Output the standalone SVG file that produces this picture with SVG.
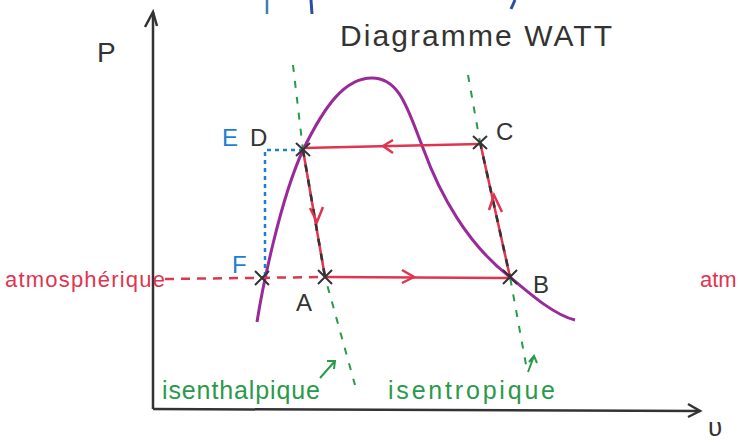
<svg xmlns="http://www.w3.org/2000/svg" width="739" height="443" viewBox="0 0 739 443">
<style>
.axis{stroke:#333;stroke-width:2.5;fill:none}
.red{stroke:#e0344f;stroke-width:2.5;fill:none}
.reddash{stroke:#e0344f;stroke-width:2.5;fill:none;stroke-dasharray:9 7}
.blkdash{stroke:#333;stroke-width:2.5;fill:none;stroke-dasharray:7 8}
.blue{stroke:#1e7fd0;stroke-width:2.5;fill:none;stroke-dasharray:4 4}
.green{stroke:#2a9a4a;stroke-width:2;fill:none;stroke-dasharray:7 9}
.greenl{stroke:#2a9a4a;stroke-width:2;fill:none}
.purple{stroke:#9a2a9a;stroke-width:3;fill:none}
.cross{stroke:#333;stroke-width:2;fill:none}
text{font-family:"Liberation Sans",Arial,sans-serif}
.lbl{fill:#333;font-size:24px}
.rt{fill:#e0344f;font-size:22px}
.gt{fill:#2a9a4a;font-size:25px}
.bt{fill:#1e7fd0;font-size:24px}
</style>
<rect width="739" height="443" fill="#fff"/>
<g id="stray">
<line x1="267" y1="0" x2="267" y2="14" stroke="#3a7cc0" stroke-width="2.5"/>
<line x1="311" y1="0" x2="312" y2="14" stroke="#2a4fa0" stroke-width="3"/>
<line x1="515" y1="0" x2="511" y2="9" stroke="#2a4fa0" stroke-width="3"/>
</g>
<g id="axes">
<line class="axis" x1="153" y1="409" x2="153" y2="12"/>
<polyline class="axis" points="145,27 153,12 157,26"/>
<line class="axis" x1="153" y1="409" x2="700" y2="411"/>
<polyline class="axis" points="688,404 700,411 688,417"/>
<text class="lbl" x="97" y="62" style="font-size:28px">P</text>
<text class="lbl" x="708" y="436" style="font-size:26px">υ</text>
</g>
<text class="lbl" x="340" y="46" style="font-size:30px" textLength="272">Diagramme WATT</text>
<g id="green-lines">
<path class="green" d="M293,65 L303,150 L325,277 L355,385"/>
<path class="green" d="M468,75 L480,142 L510,277 L527,370"/>
</g>
<g id="curve">
<path class="purple" d="M257,322 C262,290 280,200 303,150 C325,105 345,78 372,78 C400,78 408,110 423,148 C440,195 468,245 510,277 C535,298 555,315 575,320"/>
</g>
<g id="connectors">
<line class="red" x1="303" y1="148" x2="480" y2="144"/>
<polyline class="red" points="393,140 383,146 393,153"/>
<line class="red" x1="480" y1="142" x2="510" y2="277"/>
<line class="blkdash" x1="480" y1="142" x2="510" y2="277"/>
<polyline class="red" points="489,210 494,195 502,212"/>
<line class="red" x1="303" y1="150" x2="325" y2="277"/>
<line class="blkdash" x1="303" y1="150" x2="325" y2="277"/>
<polyline class="red" points="310,208 317,222 323,207"/>
<line class="red" x1="325" y1="277" x2="510" y2="278"/>
<polyline class="red" points="402,270 414,277 402,283"/>
<line class="reddash" x1="165" y1="279" x2="325" y2="277"/>
<polyline class="blue" points="303,150 265,150 265,278"/>
<g id="marks" class="cross">
<path d="M296,143 L310,156 M310,143 L296,156"/>
<path d="M473,136 L487,149 M487,136 L473,149"/>
<path d="M503,270 L517,284 M517,270 L503,284"/>
<path d="M318,270 L332,284 M332,270 L318,284"/>
<path d="M255,271 L269,285 M269,271 L255,285"/>
</g>
<path class="greenl" d="M320,378 L335,361 M327,361 L335,361 L334,369"/>
<path class="greenl" d="M528,372 L534,356 M529,362 L534,356 L537,363"/>
</g>
<g id="labels">
<text class="lbl" x="250" y="146">D</text>
<text class="lbl" x="496" y="140">C</text>
<text class="lbl" x="533" y="293">B</text>
<text class="lbl" x="296" y="311">A</text>
<text class="bt" x="222" y="146">E</text>
<text class="bt" x="232" y="273">F</text>
<text class="rt" x="5" y="287" textLength="160">atmosphérique</text>
<text class="rt" x="700" y="287">atm</text>
<text class="gt" x="162" y="399" textLength="158">isenthalpique</text>
<text class="gt" x="388" y="399" textLength="167">isentropique</text>
</g>
</svg>
